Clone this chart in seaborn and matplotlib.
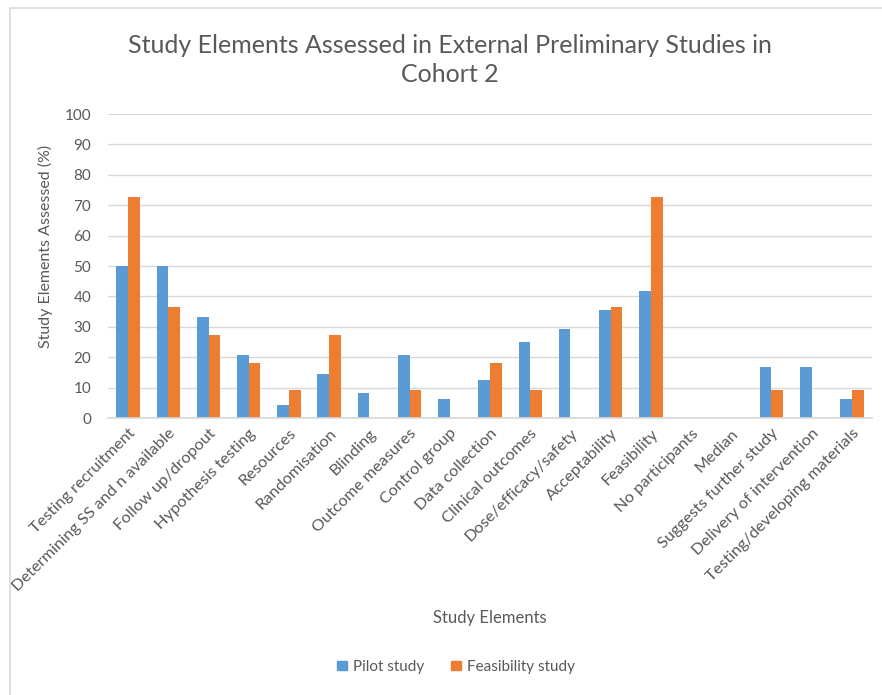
import matplotlib
matplotlib.use("Agg")
import matplotlib.pyplot as plt
from matplotlib.patches import Rectangle
import seaborn as sns
import pandas as pd

categories = [
    "Testing recruitment", "Determining SS and n available", "Follow up/dropout",
    "Hypothesis testing", "Resources", "Randomisation", "Blinding",
    "Outcome measures", "Control group", "Data collection", "Clinical outcomes",
    "Dose/efficacy/safety", "Acceptability", "Feasibility", "No participants",
    "Median", "Suggests further study", "Delivery of intervention",
    "Testing/developing materials",
]
pilot = [50.0, 50.0, 33.3, 20.8, 4.2, 14.6, 8.3, 20.8, 6.3, 12.5, 25.0,
         29.2, 35.4, 41.7, 0.0, 0.0, 16.7, 16.7, 6.3]
feasibility = [72.7, 36.4, 27.3, 18.2, 9.1, 27.3, 0.0, 9.1, 0.0, 18.2, 9.1,
               0.0, 36.4, 72.7, 0.0, 0.0, 9.1, 0.0, 9.1]
series = ["Pilot study", "Feasibility study"]
colors = ["#5B9BD5", "#ED7D31"]
yticks = list(range(0, 101, 10))

df = pd.DataFrame({
    "Study Elements": categories * 2,
    "value": pilot + feasibility,
    "Study": [series[0]] * len(categories) + [series[1]] * len(categories),
})

sns.set_theme(style="white")
plt.rcParams["font.family"] = ["Lato", "DejaVu Sans"]
text_color = "#595959"

fig = plt.figure(figsize=(8.82, 6.95), dpi=100)
W, H = 882, 695
ax = fig.add_axes([108 / W, 1 - 418 / H, (872 - 108) / W, (418 - 114) / H])

sns.barplot(data=df, x="Study Elements", y="value", hue="Study",
            palette=colors, width=0.58, gap=0, ax=ax, legend=False,
            saturation=1, linewidth=0)

ax.set_xlim(-0.5, len(categories) - 0.5)
ax.set_ylim(0, 100)
ax.set_yticks(yticks)
ax.yaxis.grid(True, color="#D9D9D9", linewidth=1)
ax.set_axisbelow(True)
for s in ["top", "right", "left"]:
    ax.spines[s].set_visible(False)
ax.spines["bottom"].set_color("#D9D9D9")
ax.tick_params(axis="both", length=0, colors=text_color, labelsize=11)
ax.tick_params(axis="y", pad=12)
ax.tick_params(axis="x", pad=6)
ax.set_xticks(range(len(categories)))
ax.set_xticklabels(categories, rotation=45, ha="right", rotation_mode="anchor",
                   fontsize=11.8, color=text_color)
ax.set_xlabel("")
ax.set_ylabel("")

fig.text(45 / W, 1 - 246 / H, "Study Elements Assessed (%)", rotation=90,
         ha="center", va="center", fontsize=11.5, color=text_color)
fig.text(450 / W, 1 - 60 / H,
         "Study Elements Assessed in External Preliminary Studies in\nCohort 2",
         ha="center", va="center", fontsize=18, color=text_color,
         linespacing=1.35)
fig.text(490 / W, 1 - 618 / H, "Study Elements", ha="center", va="center",
         fontsize=12, color=text_color)

handles = [Rectangle((0, 0), 1, 1, color=c) for c in colors]
fig.legend(handles, series, loc="center", bbox_to_anchor=(456 / W, 1 - 667 / H),
           ncol=2, frameon=False, handlelength=0.6, handleheight=0.6,
           handletextpad=0.4, columnspacing=1.8, fontsize=11,
           labelcolor=text_color)

# light chart frame
fig.patches.append(Rectangle((10 / W, -0.05), 1.2, 1 - 8 / H + 0.05,
                             transform=fig.transFigure, fill=False,
                             edgecolor="#D9D9D9", linewidth=1.2))

fig.savefig("out.png", dpi=100, facecolor="white")
